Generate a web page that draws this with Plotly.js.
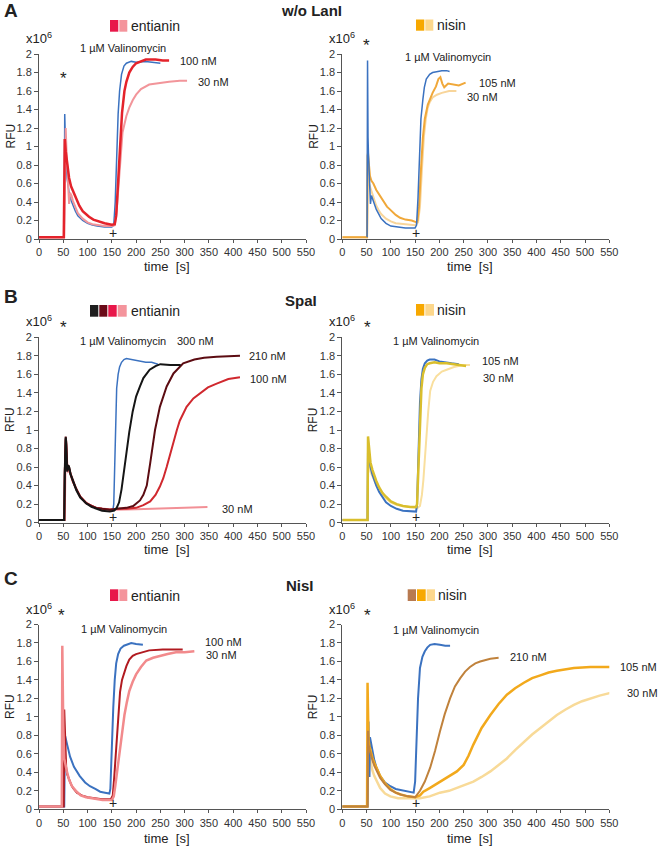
<!DOCTYPE html>
<html>
<head>
<meta charset="utf-8">
<script src="https://cdn.plot.ly/plotly-3.0.1.min.js"></script>
<style>
  body { margin: 0; background: #fff; }
  #chart { width: 660px; height: 847px; }
</style>
</head>
<body>
<div id="chart"></div>
<script>
// traces as [time s, RFU x10^6]

// A  w/o LanI - entianin
const a1Val = [[0,0.02],[50,0.02],[52,0.02],[53,1.35],[55,0.9],[58,0.65],[62,0.5],[66,0.42],[70,0.36],[75,0.3],[80,0.25],[90,0.2],[100,0.17],[110,0.15],[120,0.14],[135,0.13],[150,0.13],[154,0.15],[157,0.4],[160,0.9],[163,1.35],[166,1.6],[170,1.78],[175,1.87],[180,1.9],[190,1.92],[200,1.91],[220,1.92],[240,1.91],[250,1.9]];
const a1N30 = [[0,0.02],[52,0.02],[53,0.5],[55,1.2],[57,0.9],[59,0.6],[62,0.38],[64,0.5],[67,0.47],[70,0.41],[76,0.33],[80,0.28],[90,0.22],[100,0.18],[110,0.16],[120,0.15],[135,0.14],[150,0.14],[156,0.15],[160,0.3],[164,0.6],[169,0.98],[172,1.15],[176,1.24],[180,1.33],[186,1.42],[193,1.5],[200,1.56],[210,1.62],[227,1.67],[250,1.69],[268,1.7],[290,1.71],[305,1.71]];
const a1N100 = [[0,0.02],[51,0.02],[52,0.5],[53,1.08],[55,0.95],[58,0.8],[62,0.66],[66,0.57],[70,0.52],[76,0.45],[83,0.36],[90,0.3],[103,0.24],[112,0.21],[124,0.19],[135,0.17],[150,0.155],[156,0.16],[159,0.25],[162,0.5],[165,0.82],[168,1.12],[171,1.36],[176,1.6],[180,1.7],[186,1.8],[193,1.86],[200,1.9],[210,1.92],[220,1.94],[240,1.94],[255,1.93],[268,1.93]];

// A  w/o LanI - nisin
const a2Val = [[51,0.02],[52,1.93],[53,1.1],[54,0.9],[55,0.7],[56,0.55],[58,0.38],[60,0.47],[64,0.4],[70,0.32],[80,0.22],[90,0.17],[100,0.14],[115,0.13],[130,0.12],[150,0.12],[153,0.15],[156,0.45],[159,0.97],[162,1.3],[166,1.51],[169,1.64],[173,1.73],[180,1.78],[186,1.8],[195,1.81],[205,1.82],[215,1.82],[221,1.81]];
const a2N105 = [[0,0.02],[51,0.02],[52,0.9],[53,0.93],[55,0.8],[57,0.68],[60,0.63],[64,0.6],[70,0.53],[77,0.47],[85,0.4],[92,0.35],[98,0.32],[110,0.26],[119,0.23],[130,0.21],[143,0.2],[153,0.18],[155,0.2],[158,0.35],[162,0.75],[166,1.1],[170,1.3],[176,1.45],[186,1.58],[193,1.65],[198,1.73],[202,1.75],[206,1.68],[210,1.64],[218,1.68],[230,1.67],[240,1.66],[254,1.69]];
const a2N30 = [[0,0.02],[51,0.02],[52,0.3],[53,0.85],[55,0.6],[58,0.55],[62,0.48],[66,0.42],[70,0.36],[75,0.31],[80,0.27],[90,0.22],[100,0.19],[110,0.17],[125,0.16],[150,0.15],[156,0.18],[160,0.35],[164,0.75],[168,1.1],[172,1.3],[176,1.42],[180,1.48],[186,1.53],[195,1.56],[205,1.58],[220,1.6],[235,1.6]];

// B  SpaI - entianin
const b1Val = [[150,0.13],[152,0.13],[154,0.2],[156,0.7],[158,1.2],[160,1.45],[163,1.6],[166,1.68],[170,1.73],[175,1.76],[180,1.77],[190,1.76],[200,1.75],[210,1.74],[220,1.73],[232,1.73],[245,1.71]];
const b1N30 = [[0,0.03],[53,0.03],[55,0.8],[56,0.88],[58,0.65],[60,0.55],[63,0.56],[66,0.5],[70,0.44],[77,0.36],[85,0.28],[97,0.22],[108,0.18],[118,0.16],[135,0.15],[155,0.14],[200,0.145],[250,0.15],[300,0.16],[347,0.17]];
const b1N100 = [[0,0.03],[52,0.03],[53,0.5],[54,0.85],[55,0.9],[56,0.84],[57,0.7],[58,0.56],[60,0.6],[62,0.58],[65,0.52],[70,0.44],[77,0.36],[85,0.28],[97,0.21],[108,0.18],[118,0.16],[130,0.15],[146,0.14],[160,0.15],[180,0.15],[200,0.16],[215,0.19],[229,0.23],[240,0.3],[249,0.39],[256,0.48],[263,0.6],[270,0.74],[277,0.89],[284,1.0],[290,1.1],[304,1.25],[318,1.34],[332,1.4],[348,1.46],[366,1.5],[390,1.55],[414,1.57]];
const b1N210 = [[0,0.03],[52,0.03],[53,0.55],[54,0.88],[55,0.93],[56,0.88],[57,0.72],[58,0.58],[60,0.62],[62,0.6],[65,0.53],[70,0.45],[77,0.36],[85,0.28],[97,0.21],[108,0.18],[118,0.16],[130,0.15],[146,0.14],[160,0.15],[180,0.16],[194,0.18],[208,0.24],[215,0.3],[222,0.4],[229,0.64],[239,1.0],[249,1.25],[263,1.47],[277,1.61],[297,1.72],[320,1.76],[340,1.78],[366,1.79],[414,1.8]];
const b1N300 = [[0,0.03],[52,0.03],[53,0.5],[54,0.85],[55,0.92],[56,0.85],[57,0.7],[58,0.55],[60,0.62],[62,0.6],[65,0.52],[70,0.44],[77,0.35],[85,0.27],[97,0.21],[108,0.17],[118,0.15],[130,0.13],[146,0.12],[155,0.13],[160,0.16],[165,0.22],[170,0.36],[175,0.56],[180,0.74],[186,0.98],[193,1.2],[200,1.36],[208,1.47],[215,1.56],[228,1.65],[240,1.69],[250,1.71],[270,1.7],[292,1.7]];

// B  SpaI - nisin
const b2Val = [[0,0.03],[52,0.03],[53,0.85],[55,0.72],[58,0.6],[62,0.52],[66,0.45],[70,0.4],[76,0.33],[83,0.27],[90,0.22],[100,0.18],[112,0.15],[125,0.13],[140,0.12],[152,0.12],[154,0.2],[157,0.8],[160,1.3],[163,1.55],[166,1.66],[170,1.72],[175,1.75],[180,1.76],[190,1.76],[200,1.74],[210,1.73],[225,1.72],[240,1.71]];
const b2N105 = [[0,0.03],[52,0.03],[53,0.93],[54,0.85],[56,0.72],[58,0.65],[62,0.57],[66,0.5],[70,0.45],[76,0.38],[83,0.32],[90,0.28],[100,0.23],[112,0.2],[125,0.18],[140,0.17],[152,0.17],[154,0.2],[157,0.6],[160,1.15],[163,1.45],[166,1.6],[170,1.67],[175,1.71],[180,1.72],[190,1.73],[200,1.72],[215,1.72],[230,1.71],[245,1.7],[255,1.69]];
const b2N30 = [[0,0.03],[52,0.03],[53,0.7],[55,0.62],[58,0.55],[62,0.5],[66,0.45],[70,0.41],[76,0.35],[83,0.3],[90,0.26],[100,0.22],[112,0.19],[125,0.18],[140,0.17],[155,0.16],[160,0.18],[164,0.3],[167,0.46],[170,0.72],[174,1.0],[177,1.2],[181,1.42],[187,1.52],[194,1.58],[205,1.63],[215,1.65],[230,1.68],[249,1.7],[263,1.7]];

// C  NisI - entianin
const c1Val = [[0,0.03],[52,0.03],[53,0.5],[54,0.79],[58,0.7],[64,0.57],[72,0.46],[84,0.36],[95,0.29],[105,0.25],[116,0.22],[126,0.19],[136,0.18],[145,0.17],[147,0.22],[150,0.7],[153,1.1],[156,1.4],[159,1.58],[163,1.68],[168,1.74],[175,1.77],[190,1.8],[200,1.79],[214,1.78]];
const c1N100 = [[0,0.03],[51,0.03],[52,1.08],[53,0.85],[54,0.6],[56,0.45],[58,0.38],[62,0.32],[66,0.27],[70,0.23],[78,0.18],[88,0.15],[100,0.13],[115,0.12],[130,0.11],[148,0.11],[152,0.15],[155,0.35],[158,0.6],[161,0.85],[164,1.1],[167,1.27],[171,1.4],[175,1.48],[180,1.55],[186,1.62],[193,1.66],[200,1.68],[215,1.7],[227,1.72],[255,1.73],[275,1.73],[296,1.73]];
const c1N30 = [[0,0.03],[47,0.03],[48,1.77],[49,1.2],[50,0.9],[52,0.55],[54,0.48],[57,0.42],[62,0.32],[68,0.25],[76,0.2],[86,0.15],[97,0.13],[115,0.11],[131,0.1],[150,0.1],[154,0.14],[157,0.25],[160,0.38],[164,0.55],[168,0.72],[172,0.88],[176,1.02],[181,1.16],[186,1.28],[193,1.38],[200,1.46],[210,1.54],[221,1.61],[235,1.64],[248,1.66],[265,1.68],[282,1.7],[300,1.7],[320,1.71]];

// C  NisI - nisin
const c2Val = [[0,0.03],[52,0.03],[53,0.5],[54,0.95],[55,0.6],[56,0.35],[57,0.78],[59,0.72],[62,0.62],[66,0.53],[70,0.46],[78,0.36],[88,0.29],[99,0.25],[110,0.22],[119,0.21],[132,0.19],[147,0.18],[150,0.3],[153,0.81],[156,1.2],[160,1.53],[165,1.65],[170,1.71],[175,1.75],[181,1.78],[190,1.79],[201,1.78],[212,1.77],[222,1.77]];
const c2N210 = [[0,0.03],[52,0.03],[53,0.85],[54,0.7],[56,0.65],[58,0.6],[62,0.53],[66,0.47],[70,0.42],[78,0.34],[88,0.27],[99,0.21],[110,0.18],[120,0.16],[135,0.14],[150,0.13],[160,0.2],[170,0.3],[181,0.45],[191,0.63],[201,0.84],[211,1.03],[222,1.2],[232,1.33],[243,1.42],[253,1.49],[263,1.54],[274,1.58],[284,1.6],[295,1.62],[305,1.63],[322,1.64]];
const c2N105 = [[0,0.03],[51,0.03],[52,1.37],[53,1.0],[54,0.75],[56,0.68],[58,0.63],[62,0.56],[66,0.5],[70,0.45],[78,0.36],[88,0.28],[99,0.22],[110,0.18],[120,0.16],[135,0.14],[150,0.13],[160,0.15],[167,0.19],[180,0.23],[201,0.3],[220,0.36],[236,0.41],[250,0.48],[260,0.58],[270,0.7],[287,0.88],[305,1.02],[322,1.14],[339,1.24],[356,1.31],[374,1.37],[391,1.42],[408,1.45],[425,1.48],[442,1.5],[477,1.53],[511,1.54],[552,1.54]];
const c2N30 = [[0,0.03],[52,0.03],[53,0.65],[55,0.6],[58,0.5],[62,0.42],[66,0.36],[70,0.31],[78,0.23],[88,0.17],[99,0.14],[115,0.12],[133,0.12],[160,0.12],[180,0.14],[201,0.18],[220,0.2],[236,0.23],[253,0.26],[270,0.3],[287,0.35],[305,0.41],[322,0.48],[339,0.55],[356,0.64],[374,0.73],[391,0.81],[408,0.88],[425,0.95],[442,1.02],[460,1.08],[477,1.13],[494,1.17],[511,1.2],[530,1.23],[552,1.26]];

const xTicks = [0, 50, 100, 150, 200, 250, 300, 350, 400, 450, 500, 550];

const BLUE = '#3b72c0';
const W = 660, H = 847;
function px(x) { return x / W; }
function py(y) { return 1 - y / H; }

function line(pts, color, width, n) {
    return {
        x: pts.map(p => p[0]),
        y: pts.map(p => p[1]),
        mode: 'lines',
        type: 'scatter',
        line: { color: color, width: width },
        xaxis: n === 1 ? 'x' : 'x' + n,
        yaxis: n === 1 ? 'y' : 'y' + n,
        hoverinfo: 'skip',
        showlegend: false
    };
}

const data = [
    line(a1Val, BLUE, 1.5, 1),
    line(a1N30, '#f2959a', 2, 1),
    line(a1N100, '#e4232b', 2.5, 1),

    line(a2N30, '#f8d59a', 2, 2),
    line(a2N105, '#f0a83a', 2, 2),
    line(a2Val, BLUE, 1.5, 2),

    line(b1N30, '#f29096', 2, 3),
    line(b1N100, '#d0282e', 2, 3),
    line(b1Val, BLUE, 1.5, 3),
    line(b1N210, '#5c0c12', 2, 3),
    line(b1N300, '#151515', 2, 3),

    line(b2N30, '#f9df9e', 2, 4),
    line(b2Val, BLUE, 2, 4),
    line(b2N105, '#d9be2c', 2.5, 4),

    line(c1Val, BLUE, 2, 5),
    line(c1N100, '#b11a20', 2, 5),
    line(c1N30, '#f28a8c', 2.5, 5),

    line(c2N30, '#f8da98', 2.5, 6),
    line(c2Val, BLUE, 2, 6),
    line(c2N105, '#f2a91c', 2.5, 6),
    line(c2N210, '#c0823c', 2, 6)
];

const xLeft = [px(39), px(306)];
const xRight = [px(342.3), px(609.3)];
const yRows = [[py(239), py(54)], [py(522.7), py(337.3)], [py(809.3), py(624.5)]];

function xAxis(dom, anchor) {
    return {
        domain: dom, anchor: anchor, range: [0, 550],
        tickvals: xTicks, ticks: 'outside', ticklen: 3, tickcolor: '#555',
        showline: true, linecolor: '#555', linewidth: 1,
        showgrid: false, zeroline: false,
        tickfont: { size: 11, color: '#333' }
    };
}
function yAxis(dom, anchor) {
    return {
        domain: dom, anchor: anchor, range: [0, 2],
        dtick: 0.2, tick0: 0, ticks: 'outside', ticklen: 4, tickcolor: '#555',
        showline: true, linecolor: '#555', linewidth: 1,
        showgrid: false, zeroline: false,
        tickfont: { size: 11, color: '#333' }
    };
}

const annotations = [];
function ann(text, x, y, size, opts) {
    annotations.push(Object.assign({
        text: text, xref: 'paper', yref: 'paper', x: px(x), y: py(y),
        showarrow: false, xanchor: 'left', yanchor: 'middle',
        font: { size: size, color: '#222' }
    }, opts || {}));
}
const bold = (s) => '<b>' + s + '</b>';

// panel letters and titles
ann(bold('A'), 2, 10, 19);
ann(bold('B'), 2, 296, 19);
ann(bold('C'), 2, 578, 19);
ann(bold('w/o LanI'), 311, 10, 15, { xanchor: 'center' });
ann(bold('SpaI'), 301, 300, 15, { xanchor: 'center' });
ann(bold('NisI'), 300, 585, 15, { xanchor: 'center' });

// legend words
ann('entianin', 129, 26, 14);
ann('nisin', 435, 25, 14);
ann('entianin', 129, 311, 14);
ann('nisin', 435, 310, 14);
ann('entianin', 129, 596, 14);
ann('nisin', 436, 595, 14);

// axis decorations for each panel
const rowTop = [54, 337.3, 624.5];
const rowBot = [239, 522.7, 809.3];
const colLeft = [39, 342.3];
rowTop.forEach((top, r) => {
    colLeft.forEach((left, c) => {
        ann('x10<sup>6</sup>', left - 15, top - 16, 13);
        ann('RFU', left - 29, (top + rowBot[r]) / 2 - 10, 12, { xanchor: 'center', textangle: -90 });
        ann('time\u00a0 [s]', left + 128, rowBot[r] + (r === 2 ? 29 : 27), 13, { xanchor: 'center' });
        ann('+', left + 74, rowBot[r] - 6, 14, { xanchor: 'center' });
    });
});
// asterisks
ann('*', 63, 78, 17, { xanchor: 'center' });
ann('*', 366, 45, 17, { xanchor: 'center' });
ann('*', 63, 328, 17, { xanchor: 'center' });
ann('*', 367, 328, 17, { xanchor: 'center' });
ann('*', 62, 615, 17, { xanchor: 'center' });
ann('*', 367, 615, 17, { xanchor: 'center' });

// valinomycin labels
ann('1 µM Valinomycin', 78, 48, 11);
ann('1 µM Valinomycin', 403, 57, 11);
ann('1 µM Valinomycin', 78, 341, 11);
ann('1 µM Valinomycin', 391, 341, 11);
ann('1 µM Valinomycin', 79, 629, 11);
ann('1 µM Valinomycin', 391, 630, 11);

// concentration labels
ann('100 nM', 178, 61, 11);
ann('30 nM', 196, 82, 11);
ann('105 nM', 477, 83, 11);
ann('30 nM', 465, 97, 11);
ann('300 nM', 175, 341, 11);
ann('210 nM', 247, 356, 11);
ann('100 nM', 248, 379, 11);
ann('30 nM', 220, 509, 11);
ann('105 nM', 480, 361, 11);
ann('30 nM', 481, 378, 11);
ann('100 nM', 203, 642, 11);
ann('30 nM', 204, 655, 11);
ann('210 nM', 508, 657, 11);
ann('105 nM', 659, 667, 11, { xanchor: 'right' });
ann('30 nM', 625, 693, 11);

// legend swatches
const shapes = [];
function swatch(x0, x1, y0, y1, color) {
    shapes.push({
        type: 'rect', xref: 'paper', yref: 'paper',
        x0: px(x0), x1: px(x1), y0: py(y1), y1: py(y0),
        fillcolor: color, line: { width: 0 }
    });
}
swatch(110, 118.3, 20, 31.7, '#e8174a');
swatch(119.3, 127.3, 20, 31.7, '#f4949c');
swatch(416, 424.3, 19.5, 30.7, '#f7a800');
swatch(425.3, 433.3, 19.5, 30.7, '#fcd78c');
swatch(90, 98.3, 305, 316.7, '#1e1e1e');
swatch(99.3, 107.3, 305, 316.7, '#6a0a18');
swatch(108.3, 116.7, 305, 316.7, '#e8174a');
swatch(117.7, 126.7, 305, 316.7, '#f4949c');
swatch(416, 424.3, 304, 315.7, '#f7a800');
swatch(425.3, 434, 304, 315.7, '#fcd78c');
swatch(110, 118.3, 589.3, 601, '#e8174a');
swatch(119.3, 127.3, 589.3, 601, '#f4949c');
swatch(407.7, 416, 589.3, 601, '#b87a50');
swatch(417, 425.7, 589.3, 601, '#f7a800');
swatch(426.7, 435, 589.3, 601, '#fcd78c');

const layout = {
    width: W, height: H,
    margin: { l: 0, r: 0, t: 0, b: 0 },
    paper_bgcolor: '#fff', plot_bgcolor: '#fff',
    font: { family: 'Liberation Sans, Arial, sans-serif', color: '#222' },
    showlegend: false,
    xaxis: xAxis(xLeft, 'y'), yaxis: yAxis(yRows[0], 'x'),
    xaxis2: xAxis(xRight, 'y2'), yaxis2: yAxis(yRows[0], 'x2'),
    xaxis3: xAxis(xLeft, 'y3'), yaxis3: yAxis(yRows[1], 'x3'),
    xaxis4: xAxis(xRight, 'y4'), yaxis4: yAxis(yRows[1], 'x4'),
    xaxis5: xAxis(xLeft, 'y5'), yaxis5: yAxis(yRows[2], 'x5'),
    xaxis6: xAxis(xRight, 'y6'), yaxis6: yAxis(yRows[2], 'x6'),
    annotations: annotations,
    shapes: shapes
};

Plotly.newPlot('chart', data, layout, { displayModeBar: false, staticPlot: true });
</script>
</body>
</html>
